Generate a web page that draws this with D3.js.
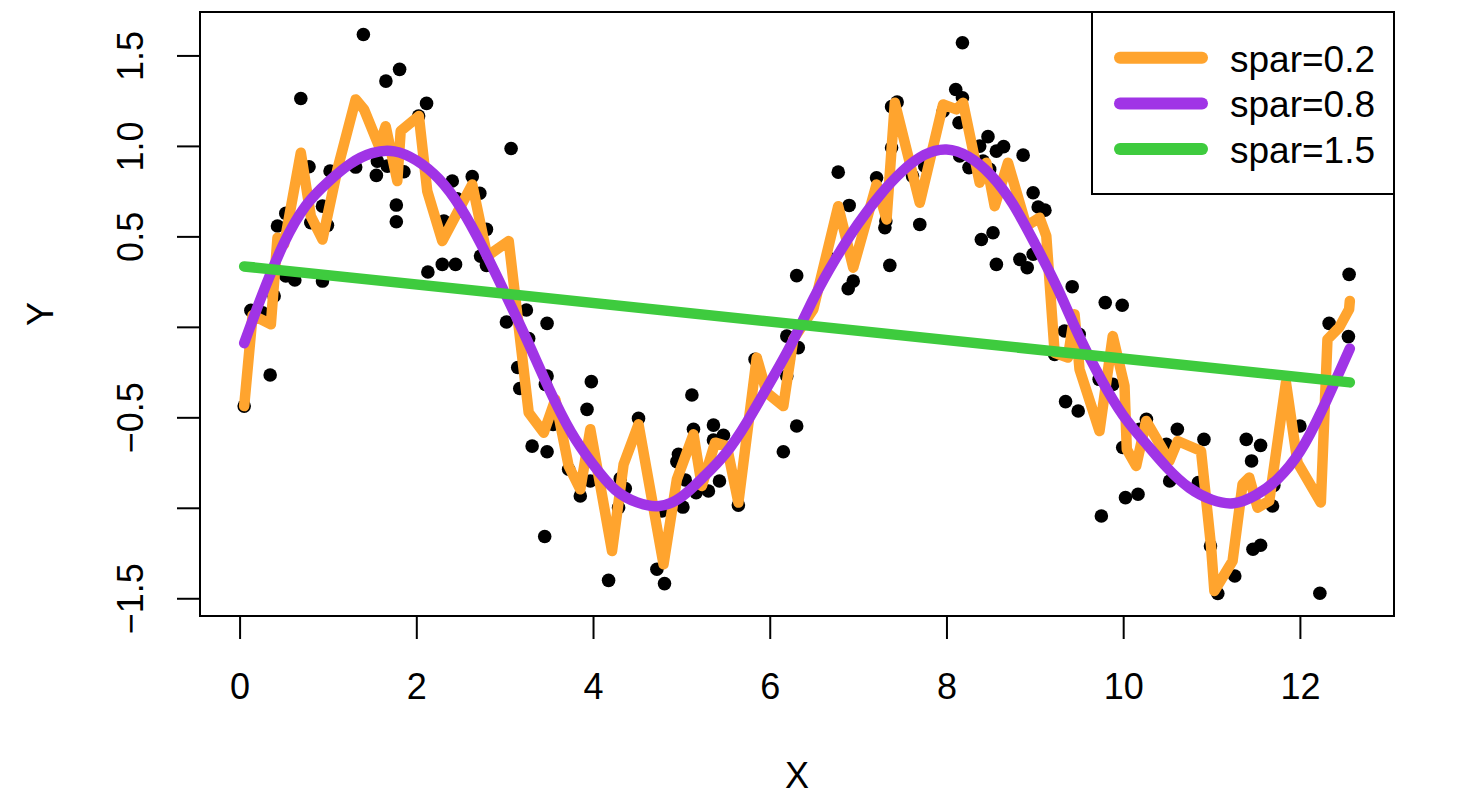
<!DOCTYPE html>
<html>
<head>
<meta charset="utf-8">
<script src="https://cdn.jsdelivr.net/npm/d3@7"></script>
<style>
  body { margin: 0; background: #fff; }
  text { font-family: "Liberation Sans", Arial, Helvetica, sans-serif; }
</style>
</head>
<body>
<svg width="1458" height="802"></svg>
<script>
// observed points
var pointX = [0.052, 0.128, 0.260, 0.346, 0.391, 0.429, 0.523, 0.523, 0.625, 0.693,
  0.786, 0.806, 0.938, 0.938, 0.994, 1.024, 1.314, 1.401, 1.548, 1.559,
  1.656, 1.672, 1.774, 1.774, 1.811, 1.860, 2.026, 2.116, 2.131, 2.294,
  2.312, 2.407, 2.444, 2.463, 2.501, 2.633, 2.719, 2.727, 2.794, 2.794,
  3.020, 3.073, 3.148, 3.171, 3.246, 3.272, 3.311, 3.453, 3.461, 3.480,
  3.480, 3.480, 3.548, 3.724, 3.856, 3.932, 3.969, 3.981, 4.176, 4.289,
  4.308, 4.365, 4.515, 4.723, 4.780, 4.809, 4.949, 4.967, 5.017, 5.043,
  5.119, 5.137, 5.167, 5.306, 5.363, 5.363, 5.431, 5.476, 5.645, 5.834,
  6.154, 6.193, 6.193, 6.210, 6.305, 6.305, 6.323, 6.662, 6.775, 6.888,
  6.899, 6.945, 7.209, 7.303, 7.314, 7.359, 7.379, 7.379, 7.442, 7.616,
  7.698, 7.755, 7.962, 8.105, 8.142, 8.150, 8.181, 8.181, 8.255, 8.376,
  8.395, 8.414, 8.470, 8.489, 8.527, 8.565, 8.565, 8.647, 8.831, 8.868,
  8.914, 8.981, 8.981, 9.038, 9.114, 9.224, 9.336, 9.348, 9.423, 9.491,
  9.502, 9.728, 9.753, 9.797, 9.883, 9.989, 9.995, 10.026, 10.168, 10.187,
  10.263, 10.489, 10.526, 10.613, 10.851, 10.914, 10.988, 11.071, 11.263, 11.393,
  11.453, 11.469, 11.555, 11.555, 11.690, 11.705, 12.000, 12.226, 12.331, 12.549,
  12.557];
var pointY = [-0.438, 0.091, 0.078, -0.266, 0.170, 0.557, 0.627, 0.281, 0.259, 1.262,
  0.885, 0.576, 0.667, 0.253, 0.561, 0.861, 0.883, 1.616, 0.837, 0.916,
  1.358, 0.888, 0.673, 0.581, 1.423, 0.857, 1.165, 1.235, 0.303, 0.345,
  0.585, 0.806, 0.345, 0.708, 0.640, 0.830, 0.738, 0.391, 0.539, 0.340,
  0.027, 0.986, -0.225, -0.341, 0.093, -0.065, -0.659, -1.159, -0.318, 0.019,
  -0.272, -0.690, -0.539, -0.787, -0.935, -0.456, -0.852, -0.303, -1.401, -0.999,
  -0.839, -0.894, -0.506, -1.340, -1.018, -1.419, -0.745, -0.704, -0.996, -0.846,
  -0.377, -0.566, -0.916, -0.907, -0.543, -0.625, -0.852, -0.599, -0.985, -0.180,
  -0.690, -0.272, -0.051, -0.180, -0.548, 0.283, -0.115, 0.382, 0.855, 0.211,
  0.671, 0.253, 0.824, 0.548, 0.585, 0.340, 1.217, 0.990, 1.242, 0.833,
  0.566, 0.888, 1.192, 1.312, 1.128, 0.944, 1.570, 1.266, 0.880, 0.999,
  0.483, 0.916, 1.051, 0.870, 0.520, 0.971, 0.345, 0.996, 0.373, 0.949,
  0.327, 0.741, 0.401, 0.662, 0.645, -0.152, -0.023, -0.413, 0.222, -0.465,
  -0.041, -0.290, -1.045, 0.134, -0.318, 0.119, -0.667, -0.944, -0.925, -0.566,
  -0.511, -0.649, -0.852, -0.566, -0.861, -0.622, -1.211, -1.474, -1.377, -0.622,
  -0.741, -1.229, -0.655, -1.207, -0.990, -0.876, -0.548, -1.472, 0.019, -0.054,
  0.290];

// smooth.spline, spar = 0.2
var orangeX = [0.052, 0.147, 0.354, 0.429, 0.504, 0.693, 0.806, 0.938, 1.107, 1.314,
  1.408, 1.577, 1.653, 1.785, 1.823, 2.029, 2.124, 2.294, 2.633, 2.802,
  3.046, 3.272, 3.442, 3.574, 3.724, 3.856, 3.969, 4.215, 4.346, 4.515,
  4.798, 4.949, 5.137, 5.232, 5.382, 5.514, 5.645, 5.853, 5.966, 6.154,
  6.266, 6.493, 6.775, 6.945, 7.209, 7.322, 7.416, 7.698, 7.962, 8.113,
  8.188, 8.376, 8.452, 8.546, 8.696, 8.904, 9.054, 9.130, 9.224, 9.374,
  9.450, 9.506, 9.732, 9.882, 10.015, 10.041, 10.147, 10.260, 10.523, 10.617,
  10.881, 10.994, 11.032, 11.238, 11.351, 11.427, 11.521, 11.653, 11.842, 11.973,
  12.237, 12.312, 12.444, 12.557, 12.565];
var orangeY = [-0.438, 0.064, 0.014, 0.493, 0.456, 0.962, 0.612, 0.483, 0.870, 1.257,
  1.202, 0.999, 1.109, 0.806, 1.082, 1.165, 0.750, 0.474, 0.787, 0.391,
  0.474, -0.474, -0.585, -0.401, -0.769, -0.898, -0.566, -1.239, -0.760, -0.539,
  -1.312, -0.843, -0.594, -0.880, -0.640, -0.659, -0.971, -0.170, -0.364, -0.438,
  -0.069, 0.097, 0.667, 0.327, 0.787, 0.594, 1.239, 0.686, 1.229, 1.202,
  1.239, 0.797, 0.907, 0.667, 0.907, 0.557, 0.603, 0.502, -0.143, -0.170,
  0.069, -0.235, -0.576, -0.051, -0.327, -0.677, -0.769, -0.520, -0.741, -0.631,
  -0.686, -1.211, -1.460, -1.294, -0.870, -0.833, -0.999, -0.962, -0.308, -0.750,
  -0.971, -0.069, -0.004, 0.097, 0.143];

// smooth.spline, spar = 0.8
var purpleX = [0.052, 0.25, 0.5, 0.75, 1.0, 1.25, 1.5, 1.75, 2.0, 2.25,
  2.5, 2.75, 3.0, 3.25, 3.5, 3.75, 4.0, 4.25, 4.5, 4.75,
  5.0, 5.25, 5.5, 5.75, 6.0, 6.25, 6.5, 6.75, 7.0, 7.25,
  7.5, 7.75, 8.0, 8.25, 8.5, 8.75, 9.0, 9.25, 9.5, 9.75,
  10.0, 10.25, 10.5, 10.75, 11.0, 11.25, 11.5, 11.75, 12.0, 12.25,
  12.565];
var purpleY = [-0.09, 0.17, 0.46, 0.67, 0.80, 0.90, 0.96, 0.97, 0.92, 0.82,
  0.66, 0.44, 0.19, -0.07, -0.34, -0.58, -0.76, -0.90, -0.97, -0.99,
  -0.94, -0.83, -0.70, -0.52, -0.31, -0.09, 0.16, 0.38, 0.57, 0.73,
  0.86, 0.95, 0.98, 0.94, 0.84, 0.68, 0.46, 0.22, -0.05, -0.29,
  -0.49, -0.64, -0.78, -0.89, -0.955, -0.975, -0.93, -0.84, -0.69, -0.46,
  -0.12];

// smooth.spline, spar = 1.5
var greenX = [0.052, 12.565];
var greenY = [0.334, -0.307];

var xTicks = [0, 2, 4, 6, 8, 10, 12];
var yTicks = [-1.5, -1, -0.5, 0, 0.5, 1, 1.5];
var yTickLabels = ['\u22121.5', '', '\u22120.5', '', '0.5', '1.0', '1.5'];

var legendLabels = ['spar=0.2', 'spar=0.8', 'spar=1.5'];
var legendColors = ['#ffa42e', '#a034e6', '#3ecb3e'];

var svg = d3.select('svg');
var box = { l: 200, r: 1394, t: 12, b: 616 };
var fontSize = 36;

var xScale = d3.scaleLinear()
  .domain([-0.448, 13.065])
  .range([box.l, box.r]);
var yScale = d3.scaleLinear()
  .domain([-1.598, 1.740])
  .range([box.b, box.t]);

// points
svg.append('g')
  .selectAll('circle')
  .data(pointX.map((x, i) => [x, pointY[i]]))
  .enter()
  .append('circle')
  .attr('cx', d => xScale(d[0]))
  .attr('cy', d => yScale(d[1]))
  .attr('r', 6.8)
  .attr('fill', '#000');

// fits
var linePlain = d3.line()
  .x(d => xScale(d[0]))
  .y(d => yScale(d[1]));
var lineSmooth = d3.line()
  .x(d => xScale(d[0]))
  .y(d => yScale(d[1]))
  .curve(d3.curveNatural);

var fits = [
  { xs: orangeX, ys: orangeY, color: legendColors[0], gen: linePlain },
  { xs: purpleX, ys: purpleY, color: legendColors[1], gen: lineSmooth },
  { xs: greenX, ys: greenY, color: legendColors[2], gen: linePlain }
];
fits.forEach(function(f) {
  svg.append('path')
    .datum(f.xs.map((x, i) => [x, f.ys[i]]))
    .attr('d', f.gen)
    .attr('fill', 'none')
    .attr('stroke', f.color)
    .attr('stroke-width', 10.5)
    .attr('stroke-linejoin', 'round')
    .attr('stroke-linecap', 'round');
});

// frame
svg.append('rect')
  .attr('x', box.l)
  .attr('y', box.t)
  .attr('width', box.r - box.l)
  .attr('height', box.b - box.t)
  .attr('fill', 'none')
  .attr('stroke', '#000')
  .attr('stroke-width', 2);

// x axis
var xAxisG = svg.append('g')
  .attr('transform', 'translate(0,' + box.b + ')')
  .call(d3.axisBottom(xScale).tickValues(xTicks).tickSize(23).tickFormat(d3.format('d')));
xAxisG.select('.domain').remove();
xAxisG.selectAll('line').attr('stroke', '#000').attr('stroke-width', 2);
xAxisG.selectAll('text')
  .attr('y', 83)
  .attr('dy', 0)
  .attr('fill', '#000')
  .style('font-size', fontSize + 'px');

// y axis
var yAxisG = svg.append('g')
  .attr('transform', 'translate(' + box.l + ',0)')
  .call(d3.axisLeft(yScale).tickValues(yTicks).tickSize(23)
    .tickFormat((d, i) => yTickLabels[i]));
yAxisG.select('.domain').remove();
yAxisG.selectAll('line').attr('stroke', '#000').attr('stroke-width', 2);
yAxisG.selectAll('text')
  .attr('x', 0)
  .attr('dy', 0)
  .attr('text-anchor', 'middle')
  .attr('transform', 'translate(-57,0) rotate(-90)')
  .attr('fill', '#000')
  .style('font-size', fontSize + 'px');

// axis titles
svg.append('text')
  .text('X')
  .attr('x', (box.l + box.r) / 2)
  .attr('y', 788)
  .attr('text-anchor', 'middle')
  .style('font-size', fontSize + 'px');
svg.append('text')
  .text('Y')
  .attr('transform', 'translate(53,' + (box.t + box.b) / 2 + ') rotate(-90)')
  .attr('text-anchor', 'middle')
  .style('font-size', fontSize + 'px');

// legend
var legendG = svg.append('g');
legendG.append('rect')
  .attr('x', 1092)
  .attr('y', box.t)
  .attr('width', box.r - 1092)
  .attr('height', 182)
  .attr('fill', '#fff')
  .attr('stroke', '#000')
  .attr('stroke-width', 2);
var rows = legendG.selectAll('.row')
  .data(legendLabels)
  .enter()
  .append('g')
  .attr('class', 'row')
  .attr('transform', (d, i) => 'translate(0,' + (57.7 + i * 45.7) + ')');
rows.append('line')
  .attr('x1', 1120)
  .attr('x2', 1202)
  .attr('stroke', (d, i) => legendColors[i])
  .attr('stroke-width', 12)
  .attr('stroke-linecap', 'round');
rows.append('text')
  .text(d => d)
  .attr('x', 1230)
  .attr('y', 14)
  .style('font-size', '37px');
</script>
</body>
</html>
